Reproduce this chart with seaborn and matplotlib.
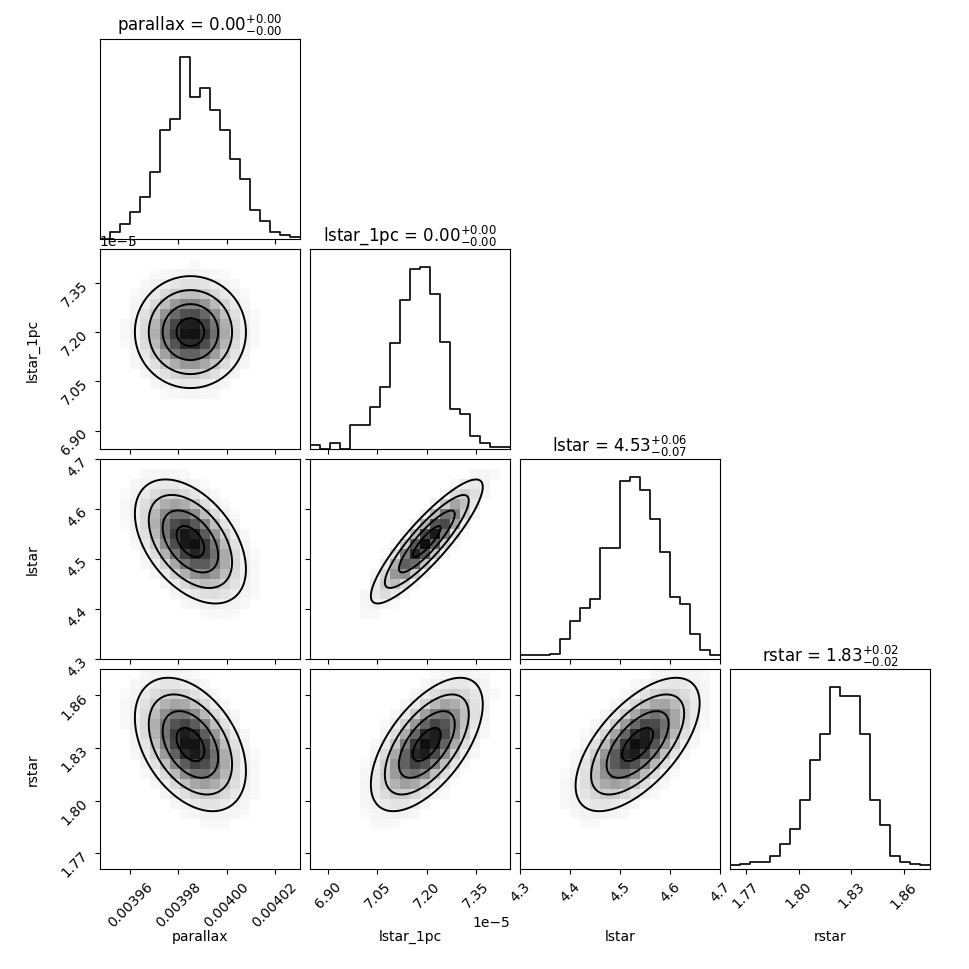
import numpy as np
import pandas as pd
import matplotlib
matplotlib.use('Agg')
import matplotlib.pyplot as plt
import seaborn as sns
from matplotlib.ticker import FormatStrFormatter, ScalarFormatter

sns.set_style('ticks', {'axes.edgecolor': 'black', 'xtick.color': 'black',
                        'ytick.color': 'black', 'text.color': 'black',
                        'axes.labelcolor': 'black'})
plt.rcParams['font.family'] = ['DejaVu Sans']

# ─────────────────────────────────────────
# Parameters
# ─────────────────────────────────────────
names  = ['parallax', 'lstar_1pc', 'lstar', 'rstar']
ranges = [(0.0039475, 0.0040304), (6.845e-5, 7.453e-5), (4.3, 4.7), (1.761, 1.875)]
means  = [0.003985, 7.20e-5, 4.535, 1.832]
sds    = [0.0000115, 0.085e-5, 0.062, 0.019]
corr = np.array([
    [1.00, 0.00, -0.45, -0.40],
    [0.00, 1.00, 0.88, 0.60],
    [-0.45, 0.88, 1.00, 0.62],
    [-0.40, 0.60, 0.62, 1.00],
])
ticks = [
    [0.00396, 0.00398, 0.00400, 0.00402],
    [6.90e-5, 7.05e-5, 7.20e-5, 7.35e-5],
    [4.3, 4.4, 4.5, 4.6, 4.7],
    [1.77, 1.80, 1.83, 1.86],
]
fmts = ['%.5f', None, '%.1f', '%.2f']
titles = [r'parallax = $0.00^{+0.00}_{-0.00}$',
          r'lstar_1pc = $0.00^{+0.00}_{-0.00}$',
          r'lstar = $4.53^{+0.06}_{-0.07}$',
          r'rstar = $1.83^{+0.02}_{-0.02}$']

# 1D histogram heights (relative), 20 bins each
hist = {
    'parallax':  [0.0, 0.04, 0.08, 0.15, 0.23, 0.37, 0.60, 0.66, 1.00, 0.78,
                  0.83, 0.71, 0.60, 0.44, 0.33, 0.16, 0.10, 0.04, 0.02, 0.01],
    'lstar_1pc': [0.02, 0.0, 0.03, 0.0, 0.13, 0.13, 0.23, 0.34, 0.58, 0.82,
                  0.99, 1.00, 0.85, 0.59, 0.22, 0.19, 0.07, 0.03, 0.01, 0.01],
    'lstar':     [0.02, 0.02, 0.02, 0.03, 0.11, 0.21, 0.28, 0.33, 0.61, 0.61,
                  0.98, 1.00, 0.93, 0.77, 0.59, 0.34, 0.30, 0.14, 0.05, 0.02],
    'rstar':     [0.02, 0.03, 0.04, 0.04, 0.07, 0.14, 0.22, 0.38, 0.60, 0.74,
                  1.00, 0.95, 0.95, 0.74, 0.38, 0.24, 0.07, 0.04, 0.03, 0.02],
}

fig, axes = plt.subplots(4, 4, figsize=(9.7, 9.7))
fig.subplots_adjust(left=0.103, right=0.959, bottom=0.103, top=0.959,
                    wspace=0.05, hspace=0.05)

def fmt_axis(axis, k):
    if fmts[k] is None:
        sf = ScalarFormatter(useMathText=False)
        sf.set_powerlimits((0, 0))
        axis.set_major_formatter(sf)
    else:
        axis.set_major_formatter(FormatStrFormatter(fmts[k]))

n = 4
for i in range(n):
    for j in range(n):
        ax = axes[i, j]
        if j > i:
            ax.set_axis_off()
            continue
        if i == j:
            lo, hi = ranges[i]
            edges = np.linspace(lo, hi, 21)
            centers = 0.5 * (edges[1:] + edges[:-1])
            hdf = pd.DataFrame({'c': centers, 'w': hist[names[i]]})
            sns.histplot(data=hdf, x='c', weights='w', bins=list(edges),
                         element='step', fill=False, color='k', ax=ax, linewidth=1.2)
            ax.set_xlim(lo, hi)
            ax.set_ylim(0, 1.1)
            ax.set_yticks([])
            ax.set_ylabel('')
            ax.set_xlabel('')
            ax.set_title(titles[i], fontsize=12)
        else:
            xl, xh = ranges[j]
            yl, yh = ranges[i]
            xe = np.linspace(xl, xh, 21)
            ye = np.linspace(yl, yh, 21)
            xc = 0.5 * (xe[1:] + xe[:-1])
            yc = 0.5 * (ye[1:] + ye[:-1])
            X, Y = np.meshgrid(xc, yc)
            u = (X - means[j]) / sds[j]
            v = (Y - means[i]) / sds[i]
            r = corr[i, j]
            q = (u**2 - 2*r*u*v + v**2) / (1 - r**2)
            dens = np.exp(-0.5 * q)
            ax.pcolormesh(xe, ye, np.where(dens > 0.05, dens, np.nan),
                          cmap='Greys', vmin=0, vmax=1.05)
            levels = [np.exp(-0.5 * s**2) for s in (2.0, 1.5, 1.0, 0.5)]
            xf = np.linspace(xl, xh, 120)
            yf = np.linspace(yl, yh, 120)
            XF, YF = np.meshgrid(xf, yf)
            uf = (XF - means[j]) / sds[j]
            vf = (YF - means[i]) / sds[i]
            df = np.exp(-0.5 * (uf**2 - 2*r*uf*vf + vf**2) / (1 - r**2))
            ax.contour(XF, YF, df, levels=levels, colors='k', linewidths=1.4)
            ax.set_xlim(xl, xh)
            ax.set_ylim(yl, yh)
            ax.set_yticks(ticks[i])
            if j == 0:
                fmt_axis(ax.yaxis, i)
                ax.set_ylabel(names[i])
                ax.yaxis.set_label_coords(-0.3, 0.5)
                for t in ax.get_yticklabels():
                    t.set_rotation(45)
            else:
                ax.set_yticklabels([])
        ax.set_xticks(ticks[j])
        if i == n - 1:
            fmt_axis(ax.xaxis, j)
            ax.set_xlabel(names[j])
            ax.xaxis.set_label_coords(0.5, -0.3)
            for t in ax.get_xticklabels():
                t.set_rotation(45)
        else:
            ax.set_xticklabels([])

plt.savefig('out.png', dpi=100)
